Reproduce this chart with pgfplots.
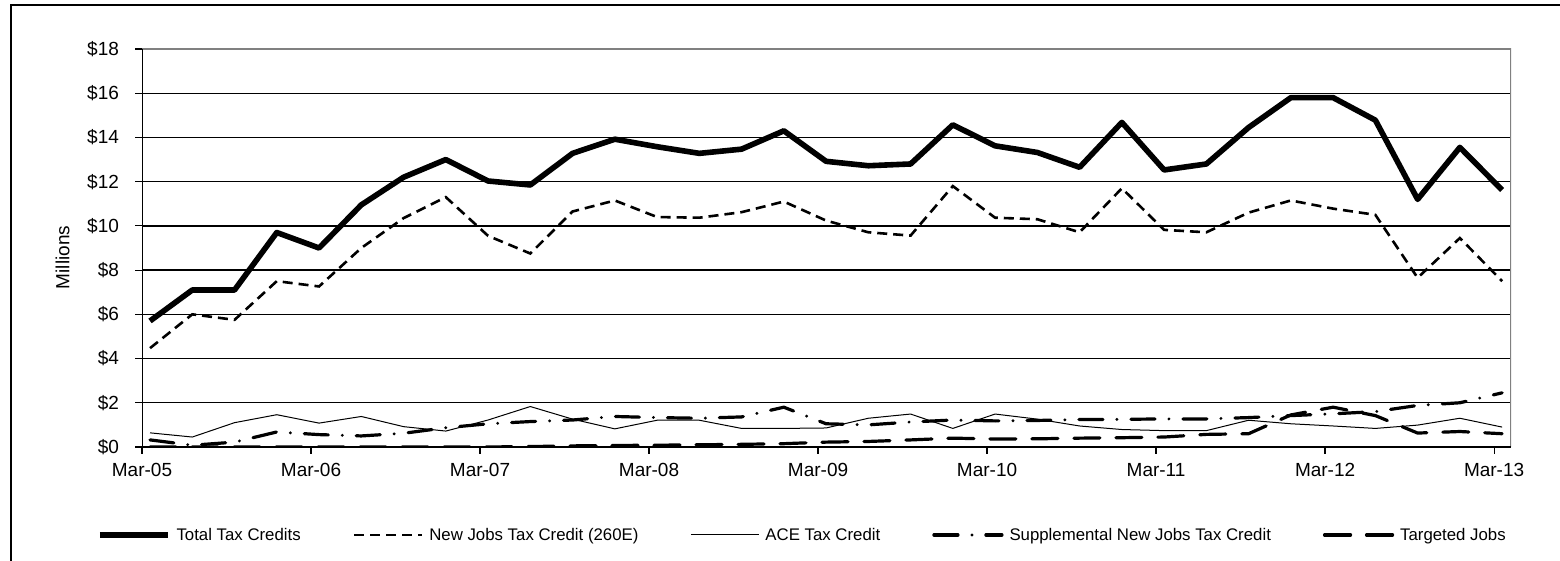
\documentclass[border=0pt]{standalone}
\usepackage{pgfplots}
\usepackage{pgfplotstable}
\pgfplotsset{compat=1.18}
\usepackage{fontspec}
\setmainfont{Liberation Sans}

% quarterly values, $ millions (q = quarter index from Mar-05)
\pgfplotstableread{
q  total  newjobs ace   supp  targ
0  5.70   4.47    0.64  0.32  0.00
1  7.10   6.00    0.45  0.08  0.00
2  7.10   5.75    1.10  0.22  0.00
3  9.70   7.50    1.46  0.68  0.00
4  9.00   7.26    1.08  0.56  0.00
5  10.95  9.00    1.38  0.50  0.00
6  12.20  10.35   0.92  0.62  0.00
7  13.00  11.30   0.72  0.87  0.00
8  12.03  9.55    1.22  1.05  0.00
9  11.85  8.75    1.83  1.15  0.02
10 13.28  10.65   1.26  1.22  0.05
11 13.92  11.15   0.82  1.38  0.07
12 13.58  10.40   1.21  1.33  0.08
13 13.28  10.37   1.21  1.30  0.10
14 13.47  10.62   0.84  1.36  0.12
15 14.30  11.10   0.84  1.80  0.15
16 12.92  10.24   0.86  1.05  0.22
17 12.72  9.71    1.30  1.00  0.25
18 12.80  9.56    1.49  1.13  0.32
19 14.57  11.80   0.84  1.22  0.40
20 13.62  10.37   1.49  1.18  0.36
21 13.32  10.30   1.26  1.20  0.37
22 12.65  9.71    0.95  1.24  0.40
23 14.68  11.70   0.79  1.25  0.42
24 12.53  9.82    0.74  1.27  0.45
25 12.80  9.71    0.74  1.27  0.57
26 14.45  10.60   1.21  1.33  0.60
27 15.80  11.15   1.05  1.42  1.45
28 15.80  10.78   0.95  1.50  1.80
29 14.78  10.50   0.84  1.60  1.42
30 11.20  7.65    0.99  1.88  0.63
31 13.55  9.45    1.30  2.00  0.70
32 11.62  7.50    0.90  2.45  0.60
}\credits

\begin{document}
\begin{tikzpicture}
\useasboundingbox (0,0) rectangle (780pt,280.5pt);
% outer chart frame
\draw[line width=1pt] (5.5pt,-5pt) -- (5.5pt,278pt) -- (790pt,278pt);

\begin{axis}[
    at={(71pt,57pt)}, anchor=south west,
    width=684.5pt, height=199pt, scale only axis,
    xmin=-0.19, xmax=32.21,
    ymin=0, ymax=18,
    xtick={-0.19,3.81,7.81,11.81,15.81,19.81,23.81,27.81,31.81},
    xticklabels={Mar-05,Mar-06,Mar-07,Mar-08,Mar-09,Mar-10,Mar-11,Mar-12,Mar-13},
    ytick={0,2,...,18},
    yticklabels={\$0,\$2,\$4,\$6,\$8,\$10,\$12,\$14,\$16,\$18},
    xtick pos=bottom, ytick pos=left,
    tick align=outside, major tick length=3.5pt,
    tick style={black, line width=0.6pt},
    ticklabel style={font=\fontsize{9.5}{11}\selectfont},
    yticklabel style={xshift=-4.5pt},
    xticklabel style={yshift=-1pt},
    /pgf/number format/assume math mode=true,
    ymajorgrids,
    major grid style={black, line width=0.7pt},
    axis line style={draw=none},
    ylabel={Millions},
    ylabel style={at={(axis description cs:-0.058,0.476)}, anchor=center, font=\fontsize{9.5}{11}\selectfont},
    legend columns=5,
    legend style={at={(axis description cs:-0.0329,-0.2236)}, anchor=west,
        draw=none, fill=none, inner sep=0pt, outer sep=0pt,
        font=\fontsize{8.4}{10}\selectfont,
        column sep=0pt,
        nodes={inner xsep=0pt, inner ysep=1pt},
        /tikz/every even column/.append style={column sep=26pt},
        /tikz/every odd column/.append style={column sep=3pt}},
    legend image code/.code={\draw[#1] (0pt,0.05em) -- (34pt,0.05em);},
]
\draw[gray, line width=0.75pt] (rel axis cs:0,1) -- (rel axis cs:1,1) -- (rel axis cs:1,0);
\draw[black, line width=0.9pt] (rel axis cs:0,1) -- (rel axis cs:0,0) -- (rel axis cs:1,0);

\addplot[black, line width=2.8pt, line join=round] table[x=q, y=total] {\credits};
\addlegendentry{Total Tax Credits}
\addplot[black, line width=1.3pt, dash pattern=on 5pt off 3pt] table[x=q, y=newjobs] {\credits};
\addlegendentry{New Jobs Tax Credit (260E)}
\addplot[black, line width=0.5pt] table[x=q, y=ace] {\credits};
\addlegendentry{ACE Tax Credit}
\addplot[black, line width=1.6pt, line cap=round, dash pattern=on 12pt off 7pt on 0pt off 7pt] table[x=q, y=supp] {\credits};
\addlegendentry{Supplemental New Jobs Tax Credit}
\addplot[black, line width=1.6pt, line cap=round, dash pattern=on 13pt off 8pt] table[x=q, y=targ] {\credits};
\addlegendentry{Targeted Jobs}
\end{axis}
\end{tikzpicture}
\end{document}
